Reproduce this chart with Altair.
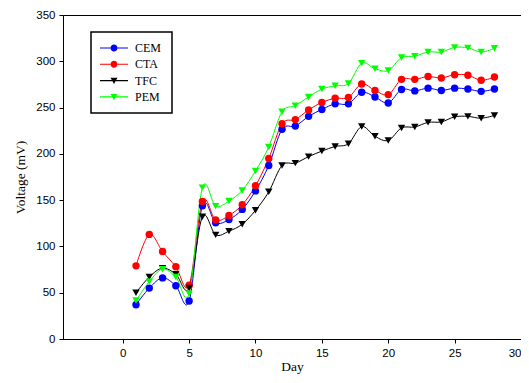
import altair as alt
import pandas as pd

days = list(range(1, 29))
series = ["CEM", "CTA", "TFC", "PEM"]
colors = ["#0000FF", "#FF0000", "#000000", "#00FF00"]
shapes = ["circle", "circle", "triangle-down", "triangle-down"]

cem = [37, 55, 66, 57.5, 41, 144, 125.5, 129, 140, 160, 187.5, 226.5, 230, 240.5, 248, 254, 254,
       266.5, 261.5, 255, 269.5, 268, 271, 268.5, 271, 270, 267.5, 270]
cta = [79, 113, 94.5, 78, 58, 148.5, 128.5, 133.5, 145, 165.5, 195, 232.5, 237, 247.5, 255.5, 260, 261,
       275.5, 268.5, 264, 280.5, 280.5, 283.5, 282, 285.5, 285, 279.5, 283]
tfc = [50, 67, 76.5, 70, 55, 132, 112.5, 116.5, 124, 139, 159, 187.5, 190, 197, 203, 208, 211,
       229.5, 219, 214.5, 228, 229, 234, 234.5, 240, 240.5, 238.5, 241.5]
pem = [41.5, 62, 75.5, 67, 49, 163.5, 143.5, 149, 160.5, 181.5, 207.5, 245.5, 252, 261.5, 270, 273.5, 276,
       298, 292, 290, 304, 305.5, 310, 310, 315, 314.5, 310, 314]

x_ticks = [0, 5, 10, 15, 20, 25, 30]
y_ticks = [0, 50, 100, 150, 200, 250, 300, 350]

rows = []
for name, vals in zip(series, [cem, cta, tfc, pem]):
    for d, v in zip(days, vals):
        rows.append({"Day": d, "Voltage": v, "Series": name})
df = pd.DataFrame(rows)

# legend symbols: marker with a line through it
circ_leg = ("M-4,-0.16L-1,-0.16L-1,0.16L-4,0.16Z M1,-0.16L4,-0.16L4,0.16L1,0.16Z "
            "M1,0A1,1,0,1,1,-1,0A1,1,0,1,1,1,0Z")
tri_leg = ("M-4,-0.16L-0.3,-0.16L-0.3,0.16L-4,0.16Z M0.3,-0.16L4,-0.16L4,0.16L0.3,0.16Z "
           "M-1,-0.8L1,-0.8L0,0.95Z")
leg_shapes = [circ_leg, circ_leg, tri_leg, tri_leg]

x_enc = alt.X("Day:Q", scale=alt.Scale(domain=[-4.5, 30], nice=False, zero=False),
              axis=alt.Axis(values=x_ticks, title="Day", format="d"))
y_enc = alt.Y("Voltage:Q", scale=alt.Scale(domain=[0, 350], nice=False),
              axis=alt.Axis(values=y_ticks, title="Voltage (mV)", format="d"))
color_scale = alt.Scale(domain=series, range=colors)

leg = alt.Legend(title=None, orient="none", legendX=28, legendY=17,
                 strokeColor="black", padding=10, fillColor="white",
                 labelFont="Liberation Serif", labelFontSize=12, labelFontWeight="normal",
                 labelColor="black", symbolSize=49,
                 symbolOffset=7, labelOffset=15, rowPadding=4.3,
                 symbolStrokeWidth=0)

base = alt.Chart(df)

lines = base.mark_line(strokeWidth=1, interpolate="cardinal").encode(
    x=x_enc, y=y_enc,
    color=alt.Color("Series:N", scale=color_scale, legend=None),
    detail="Series:N",
)

points = base.mark_point(filled=True, opacity=1, size=55).encode(
    x=x_enc, y=y_enc,
    color=alt.Color("Series:N", scale=color_scale, legend=None),
    shape=alt.Shape("Series:N", scale=alt.Scale(domain=series, range=shapes), legend=None),
)

legend_layer = base.transform_filter("datum.Voltage < -1000").mark_point(filled=True, opacity=1, size=49).encode(
    x=x_enc, y=y_enc,
    color=alt.Color("Series:N", scale=color_scale, legend=leg),
    shape=alt.Shape("Series:N", scale=alt.Scale(domain=series, range=leg_shapes), legend=leg),
)

chart = alt.layer(lines, points, legend_layer).resolve_scale(
    shape="independent", color="independent"
).properties(
    width=458, height=324,
    autosize=alt.AutoSizeParams(type="none"),
    padding={"left": 55, "top": 7, "right": 0, "bottom": 35},
).configure_view(stroke="black", strokeWidth=1).configure_axis(
    grid=False, domainColor="black", domainWidth=1, tickColor="black", tickSize=4, tickWidth=1,
    labelFont="Liberation Sans", labelFontSize=11.5, labelColor="black",
    titleFont="Liberation Serif", titleFontSize=13.5, titleFontWeight="normal", titleColor="black",
).configure_axisY(labelPadding=4, titlePadding=8).configure_axisX(labelPadding=4, titlePadding=1
).configure_legend(strokeWidth=1.5)

chart.save("out.html", embed_options={"renderer": "svg", "actions": False})
